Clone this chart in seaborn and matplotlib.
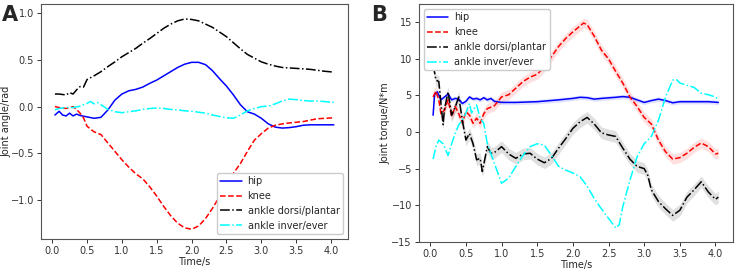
import matplotlib
matplotlib.use("Agg")
import matplotlib.pyplot as plt
import numpy as np
import seaborn as sns

# ---- panel A: joint angle (rad) ----
a_hip_t = [0.04, 0.1, 0.15, 0.2, 0.25, 0.3, 0.35, 0.4, 0.5, 0.6, 0.7, 0.8, 0.9, 1.0, 1.1, 1.2, 1.3, 1.4, 1.5,
           1.6, 1.7, 1.8, 1.9, 2.0, 2.1, 2.2, 2.3, 2.4, 2.5, 2.6, 2.7, 2.8, 2.9, 3.0, 3.1, 3.2, 3.3, 3.4,
           3.5, 3.6, 3.7, 3.8, 3.9, 4.04]
a_hip = [-0.09, -0.05, -0.09, -0.1, -0.07, -0.1, -0.08, -0.095, -0.11, -0.125, -0.115, -0.035, 0.07, 0.135,
         0.17, 0.185, 0.21, 0.25, 0.285, 0.33, 0.375, 0.42, 0.455, 0.475, 0.475, 0.45, 0.385, 0.30, 0.22,
         0.125, 0.02, -0.055, -0.08, -0.125, -0.185, -0.22, -0.23, -0.225, -0.215, -0.2, -0.195, -0.195,
         -0.195, -0.195]

a_knee_t = [0.04, 0.1, 0.2, 0.3, 0.35, 0.4, 0.45, 0.5, 0.6, 0.7, 0.8, 0.9, 1.0, 1.1, 1.2, 1.3, 1.4, 1.5, 1.6,
            1.7, 1.8, 1.9, 2.0, 2.1, 2.2, 2.3, 2.4, 2.5, 2.6, 2.7, 2.8, 2.9, 3.0, 3.1, 3.2, 3.3, 3.4, 3.6,
            3.8, 4.04]
a_knee = [0.0, -0.01, -0.02, 0.0, -0.03, -0.07, -0.12, -0.21, -0.27, -0.30, -0.39, -0.48, -0.57, -0.65,
          -0.72, -0.775, -0.86, -0.96, -1.07, -1.17, -1.25, -1.30, -1.315, -1.28, -1.20, -1.09, -0.965,
          -0.84, -0.715, -0.61, -0.48, -0.36, -0.29, -0.23, -0.2, -0.185, -0.175, -0.16, -0.13, -0.12]

a_dorsi_t = [0.04, 0.1, 0.2, 0.25, 0.3, 0.35, 0.4, 0.45, 0.5, 0.55, 0.6, 0.7, 0.8, 0.9, 1.0, 1.1, 1.2, 1.3,
             1.4, 1.5, 1.6, 1.7, 1.8, 1.9, 2.0, 2.1, 2.2, 2.3, 2.4, 2.5, 2.6, 2.7, 2.8, 2.9, 3.0, 3.1, 3.2,
             3.3, 3.4, 3.5, 3.6, 3.7, 3.8, 3.9, 4.04]
a_dorsi = [0.135, 0.135, 0.125, 0.15, 0.135, 0.18, 0.215, 0.21, 0.29, 0.31, 0.33, 0.375, 0.43, 0.48, 0.535,
           0.58, 0.625, 0.68, 0.73, 0.785, 0.84, 0.885, 0.92, 0.94, 0.935, 0.92, 0.885, 0.85, 0.80, 0.75,
           0.685, 0.62, 0.56, 0.52, 0.48, 0.455, 0.435, 0.42, 0.415, 0.41, 0.405, 0.40, 0.39, 0.38, 0.37]

a_inver_t = [0.04, 0.1, 0.2, 0.3, 0.4, 0.5, 0.55, 0.6, 0.65, 0.7, 0.8, 0.9, 1.0, 1.1, 1.2, 1.3, 1.4, 1.5,
             1.6, 1.7, 1.8, 1.9, 2.0, 2.1, 2.2, 2.3, 2.4, 2.5, 2.6, 2.7, 2.8, 2.9, 3.0, 3.1, 3.2, 3.3, 3.4,
             3.5, 3.6, 3.7, 3.8, 3.9, 4.04]
a_inver = [-0.035, -0.02, -0.01, -0.01, 0.005, 0.035, 0.055, 0.03, 0.045, 0.02, -0.03, -0.055, -0.065,
           -0.055, -0.045, -0.03, -0.02, -0.015, -0.02, -0.03, -0.035, -0.045, -0.05, -0.06, -0.07, -0.09,
           -0.105, -0.12, -0.125, -0.09, -0.045, -0.02, 0.0, 0.005, 0.03, 0.06, 0.08, 0.075, 0.065, 0.06,
           0.06, 0.055, 0.045]

# ---- panel B: joint torque (N*m) ----
b_hip_t = [0.04, 0.06, 0.1, 0.15, 0.2, 0.25, 0.3, 0.35, 0.4, 0.45, 0.5, 0.55, 0.6, 0.65, 0.7, 0.75, 0.8,
           0.85, 0.9, 1.0, 1.2, 1.5, 1.8, 2.0, 2.1, 2.2, 2.3, 2.4, 2.6, 2.7, 2.8, 2.9, 3.0, 3.1, 3.2, 3.3,
           3.4, 3.5, 3.7, 3.9, 4.04]
b_hip = [2.3, 5.1, 5.5, 4.4, 4.8, 5.2, 4.4, 4.6, 4.5, 3.9, 4.2, 4.8, 4.5, 4.6, 4.4, 4.7, 4.4, 4.6, 4.2,
         4.05, 4.05, 4.15, 4.4, 4.6, 4.75, 4.7, 4.5, 4.6, 4.75, 4.85, 4.75, 4.4, 4.05, 4.3, 4.5, 4.3, 4.0,
         4.15, 4.15, 4.15, 4.05]
b_hip_sd = 0.3

b_knee_t = [0.04, 0.08, 0.12, 0.15, 0.2, 0.25, 0.3, 0.35, 0.4, 0.45, 0.5, 0.55, 0.6, 0.65, 0.7, 0.75, 0.8,
            0.9, 1.0, 1.1, 1.2, 1.3, 1.4, 1.5, 1.6, 1.7, 1.8, 1.9, 2.0, 2.1, 2.15, 2.2, 2.3, 2.4, 2.5, 2.6,
            2.7, 2.8, 2.9, 3.0, 3.1, 3.2, 3.3, 3.4, 3.5, 3.6, 3.7, 3.8, 3.9, 4.0, 4.04]
b_knee = [4.8, 5.6, 4.4, 2.5, 3.0, 4.4, 2.1, 3.5, 2.5, 1.2, 2.8, 2.3, 1.2, 1.9, 1.2, 2.5, 3.2, 3.6, 4.8,
          5.1, 6.0, 6.9, 7.5, 7.9, 8.9, 10.3, 11.7, 12.8, 13.7, 14.5, 14.9, 14.7, 13.1, 11.2, 10.0, 8.3,
          6.7, 4.8, 3.5, 2.0, 1.1, -1.1, -2.7, -3.7, -3.5, -2.9, -2.1, -1.5, -2.0, -3.0, -2.9]
b_knee_sd = 0.7

b_dorsi_t = [0.04, 0.08, 0.12, 0.15, 0.18, 0.2, 0.25, 0.3, 0.35, 0.4, 0.45, 0.5, 0.55, 0.6, 0.65, 0.7,
             0.73, 0.8, 0.85, 0.9, 1.0, 1.1, 1.2, 1.3, 1.4, 1.5, 1.6, 1.7, 1.8, 1.9, 2.0, 2.1, 2.2, 2.3,
             2.4, 2.5, 2.6, 2.7, 2.8, 2.9, 3.0, 3.05, 3.1, 3.2, 3.3, 3.4, 3.5, 3.6, 3.7, 3.8, 3.9, 4.0, 4.04]
b_dorsi = [9.2, 7.1, 6.9, 3.9, 1.0, 3.2, 5.5, 2.3, 3.4, 4.8, 1.6, -1.1, -0.2, -1.6, -3.8, -3.6, -5.4,
           -2.0, -2.9, -2.8, -2.0, -3.0, -3.6, -3.0, -2.9, -3.7, -4.2, -3.6, -2.2, -0.9, 0.5, 1.4, 2.0,
           1.1, -0.1, -0.4, -0.6, -2.2, -3.7, -4.7, -5.0, -5.9, -7.9, -9.5, -10.5, -11.4, -10.7, -8.9,
           -7.9, -6.8, -8.2, -9.2, -8.9]
b_dorsi_sd = 0.8

b_inver_t = [0.04, 0.08, 0.12, 0.18, 0.25, 0.3, 0.35, 0.4, 0.45, 0.5, 0.55, 0.58, 0.6, 0.65, 0.7, 0.75,
             0.8, 0.9, 1.0, 1.1, 1.2, 1.3, 1.4, 1.5, 1.6, 1.7, 1.8, 1.9, 2.0, 2.1, 2.2, 2.3, 2.4, 2.5,
             2.6, 2.65, 2.7, 2.8, 2.9, 3.0, 3.1, 3.2, 3.3, 3.4, 3.45, 3.5, 3.6, 3.7, 3.8, 3.9, 4.0, 4.04]
b_inver = [-3.7, -2.0, -1.1, -1.6, -3.2, -1.6, -0.2, 1.0, 1.6, 2.6, 3.9, 2.6, 3.0, 3.7, 1.9, 1.2, -1.6,
           -4.3, -7.0, -6.3, -4.7, -3.2, -2.0, -1.6, -1.8, -3.2, -4.7, -5.2, -5.6, -6.1, -7.4, -9.1,
           -10.5, -11.8, -13.1, -12.7, -10.2, -6.6, -3.4, -1.6, -0.6, 1.6, 4.8, 7.1, 7.2, 6.7, 6.4, 6.1,
           5.3, 5.1, 4.8, 4.4]

labels = ["hip", "knee", "ankle dorsi/plantar", "ankle inver/ever"]
colors = ["blue", "red", "black", "cyan"]
styles = ["-", "--", "-.", "-."]

sns.set_style("ticks")
plt.rcParams["font.family"] = ["DejaVu Sans"]
plt.rcParams["font.size"] = 7

fig = plt.figure(figsize=(7.4, 2.71), dpi=100)
axA = fig.add_axes([0.0554, 0.118, 0.4146, 0.867])
axB = fig.add_axes([0.566, 0.108, 0.424, 0.877])

seriesA = [(a_hip_t, a_hip), (a_knee_t, a_knee), (a_dorsi_t, a_dorsi), (a_inver_t, a_inver)]
for (t, v), lab, c, ls in zip(seriesA, labels, colors, styles):
    sns.lineplot(x=t, y=v, ax=axA, color=c, linestyle=ls, linewidth=1.1, label=lab, sort=False)

seriesB = [(b_hip_t, b_hip, b_hip_sd), (b_knee_t, b_knee, b_knee_sd),
           (b_dorsi_t, b_dorsi, b_dorsi_sd), (b_inver_t, b_inver, None)]
for (t, v, sd), lab, c, ls in zip(seriesB, labels, colors, styles):
    if sd is not None:
        axB.fill_between(t, np.array(v) - sd, np.array(v) + sd, color=c, alpha=0.12, linewidth=0)
    sns.lineplot(x=t, y=v, ax=axB, color=c, linestyle=ls, linewidth=1.1, label=lab, sort=False)

axA.set_ylim(-1.42, 1.1)
axA.set_yticks([-1.0, -0.5, 0.0, 0.5, 1.0])
axA.set_xlabel("Time/s", labelpad=1)
axA.set_ylabel("Joint angle/rad")
axA.yaxis.set_label_coords(-0.097, 0.5)
axA.legend(loc="lower right", fontsize=7, handlelength=2.2, handletextpad=0.6,
           framealpha=1, edgecolor="#cccccc", borderpad=0.35)

axB.set_ylim(-15, 17.5)
axB.set_yticks([-15, -10, -5, 0, 5, 10, 15])
axB.set_xlabel("Time/s", labelpad=1)
axB.set_ylabel("Joint torque/N*m")
axB.yaxis.set_label_coords(-0.09, 0.5)
axB.legend(loc="upper left", fontsize=7, handlelength=2.2, handletextpad=0.6,
           framealpha=1, edgecolor="#cccccc", borderpad=0.35)

for ax in (axA, axB):
    ax.set_xticks([0.0, 0.5, 1.0, 1.5, 2.0, 2.5, 3.0, 3.5, 4.0])
    ax.set_xticklabels(["0.0", "0.5", "1.0", "1.5", "2.0", "2.5", "3.0", "3.5", "4.0"])
    ax.tick_params(labelsize=7, length=3, width=0.7, pad=2, colors="#333333")
    for sp in ax.spines.values():
        sp.set_color("#555555")
        sp.set_linewidth(0.8)

fig.text(0.003, 0.98, "A", fontsize=15, fontweight="bold", va="top")
fig.text(0.502, 0.98, "B", fontsize=15, fontweight="bold", va="top")

fig.savefig("out.png", dpi=100)
